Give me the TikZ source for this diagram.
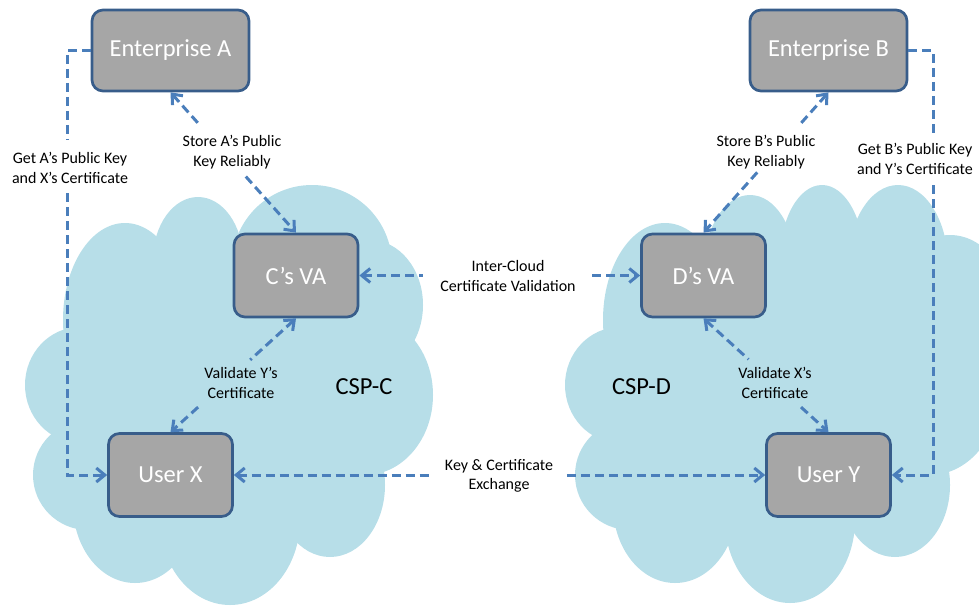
\documentclass[tikz,border=0pt]{standalone}
\usepackage{fontspec}
\setmainfont{Carlito}
\usetikzlibrary{arrows.meta}
\definecolor{cloudc}{HTML}{B7DEE8}
\definecolor{boxfill}{HTML}{A6A6A6}
\definecolor{boxline}{HTML}{385D8A}
\definecolor{arrowc}{HTML}{4A7EBB}
\begin{document}
\begin{tikzpicture}[x=1pt,y=-1pt,
  box/.style={draw=boxline, fill=boxfill, line width=2.7pt, rounded corners=11pt,
    text=white, font=\fontsize{24.5}{28}\selectfont, minimum width=124pt,
    minimum height=83pt, inner sep=0pt},
  entbox/.style={box, minimum width=157pt, minimum height=81pt},
  lbl/.style={align=center, font=\fontsize{16}{19.5}\selectfont, inner sep=0pt},
  csp/.style={font=\fontsize{24.5}{28}\selectfont, inner sep=0pt},
  conn/.style={draw=arrowc, line width=3pt, dash pattern=on 9pt off 5pt},
  >={Straight Barb[length=8.5pt,width=14pt]},
  cl/.style={fill=cloudc}]
\useasboundingbox (0,0) rectangle (979,605);

% ---- left cloud (CSP-C)
\fill[cl] (125,320) ellipse [x radius=62pt, y radius=97pt];
\fill[cl] (198,260) ellipse [x radius=45pt, y radius=63pt];
\fill[cl] (312,265) ellipse [x radius=80pt, y radius=80pt];
\fill[cl] (370,305) ellipse [x radius=53pt, y radius=65pt];
\fill[cl] (365,395) ellipse [x radius=68pt, y radius=80pt];
\fill[cl] (330,485) ellipse [x radius=55pt, y radius=72pt];
\fill[cl] (230,520) ellipse [x radius=70pt, y radius=85pt];
\fill[cl] (135,505) ellipse [x radius=62pt, y radius=78pt];
\fill[cl] (88,475) ellipse [x radius=55pt, y radius=55pt];
\fill[cl] (80,385) ellipse [x radius=55pt, y radius=58pt];
\fill[cl] (230,390) ellipse [x radius=170pt, y radius=150pt];

% ---- right cloud (CSP-D)
\fill[cl] (665,320) ellipse [x radius=62pt, y radius=97pt];
\fill[cl] (750,265) ellipse [x radius=45pt, y radius=70pt];
\fill[cl] (822,260) ellipse [x radius=42pt, y radius=75pt];
\fill[cl] (898,265) ellipse [x radius=50pt, y radius=80pt];
\fill[cl] (950,310) ellipse [x radius=60pt, y radius=75pt];
\fill[cl] (930,390) ellipse [x radius=70pt, y radius=85pt];
\fill[cl] (895,485) ellipse [x radius=55pt, y radius=72pt];
\fill[cl] (790,520) ellipse [x radius=65pt, y radius=83pt];
\fill[cl] (675,505) ellipse [x radius=62pt, y radius=78pt];
\fill[cl] (630,475) ellipse [x radius=55pt, y radius=55pt];
\fill[cl] (620,385) ellipse [x radius=55pt, y radius=58pt];
\fill[cl] (780,390) ellipse [x radius=180pt, y radius=150pt];

% ---- boxes
\node[entbox] (entA) at (170.5,50.5) {Enterprise A};
\node[entbox] (entB) at (828.5,50.5) {Enterprise B};
\node[box] (cva) at (296,275.5) {C’s VA};
\node[box] (dva) at (703.5,275.5) {D’s VA};
\node[box] (userX) at (170.5,475) {User X};
\node[box] (userY) at (828.5,475) {User Y};

% ---- labels
\node[lbl] (lGetA) at (70,168) {Get A’s Public Key\\and X’s Certificate};
\node[lbl] (lStoreA) at (232,152) {Store A’s Public\\Key Reliably};
\node[lbl] (lStoreB) at (766,152) {Store B’s Public\\Key Reliably};
\node[lbl] (lGetB) at (915,159) {Get B’s Public Key\\and Y’s Certificate};
\node[lbl] (lInter) at (508,276) {Inter-Cloud\\Certificate Validation};
\node[lbl] (lValY) at (241,383) {Validate Y’s\\Certificate};
\node[lbl] (lValX) at (775,383) {Validate X’s\\Certificate};
\node[lbl] (lKey) at (499,476) {Key \& Certificate\\Exchange};
\node[csp] (cspC) at (364,387) {CSP-C};
\node[csp] (cspD) at (641.5,387) {CSP-D};

% ---- connectors
% Get A's public key
\coordinate (ga1) at (67,50.5);
\coordinate (ga2) at (67,140);
\coordinate (ga3) at (67,193);
\coordinate (ga4) at (67,475);
\draw[conn] (entA.west) -- (ga1) -- (ga2);
\draw[conn,->] (ga3) -- (ga4) -- (userX.west);

% Get B's public key
\coordinate (gb1) at (933,50.5);
\coordinate (gb2) at (933,133);
\coordinate (gb3) at (933,185);
\coordinate (gb4) at (933,475);
\draw[conn] (entB.east) -- (gb1) -- (gb2);
\draw[conn,->] (gb3) -- (gb4) -- (userY.east);

% Store A's
\path (entA.south) -- coordinate[pos=0.24] (sa1) coordinate[pos=0.60] (sa2) (cva.north);
\draw[conn,<-] (entA.south) -- (sa1);
\draw[conn,->] (sa2) -- (cva.north);

% Store B's
\path (entB.south) -- coordinate[pos=0.23] (sb1) coordinate[pos=0.57] (sb2) (dva.north);
\draw[conn,<-] (entB.south) -- (sb1);
\draw[conn,->] (sb2) -- (dva.north);

% Inter-cloud
\path (cva.east) -- coordinate[pos=0.228] (ic1) coordinate[pos=0.83] (ic2) (dva.west);
\draw[conn,<-] (cva.east) -- (ic1);
\draw[conn,->] (ic2) -- (dva.west);

% Validate Y's
\path (cva.south) -- coordinate[pos=0.365] (vy1) coordinate[pos=0.78] (vy2) (userX.north);
\draw[conn,<-] (cva.south) -- (vy1);
\draw[conn,->] (vy2) -- (userX.north);

% Validate X's
\path (dva.south) -- coordinate[pos=0.36] (vx1) coordinate[pos=0.78] (vx2) (userY.north);
\draw[conn,<-] (dva.south) -- (vx1);
\draw[conn,->] (vx2) -- (userY.north);

% Key exchange
\path (userX.east) -- coordinate[pos=0.373] (ke1) coordinate[pos=0.627] (ke2) (userY.west);
\draw[conn,<-] (userX.east) -- (ke1);
\draw[conn,->] (ke2) -- (userY.west);
\end{tikzpicture}
\end{document}
